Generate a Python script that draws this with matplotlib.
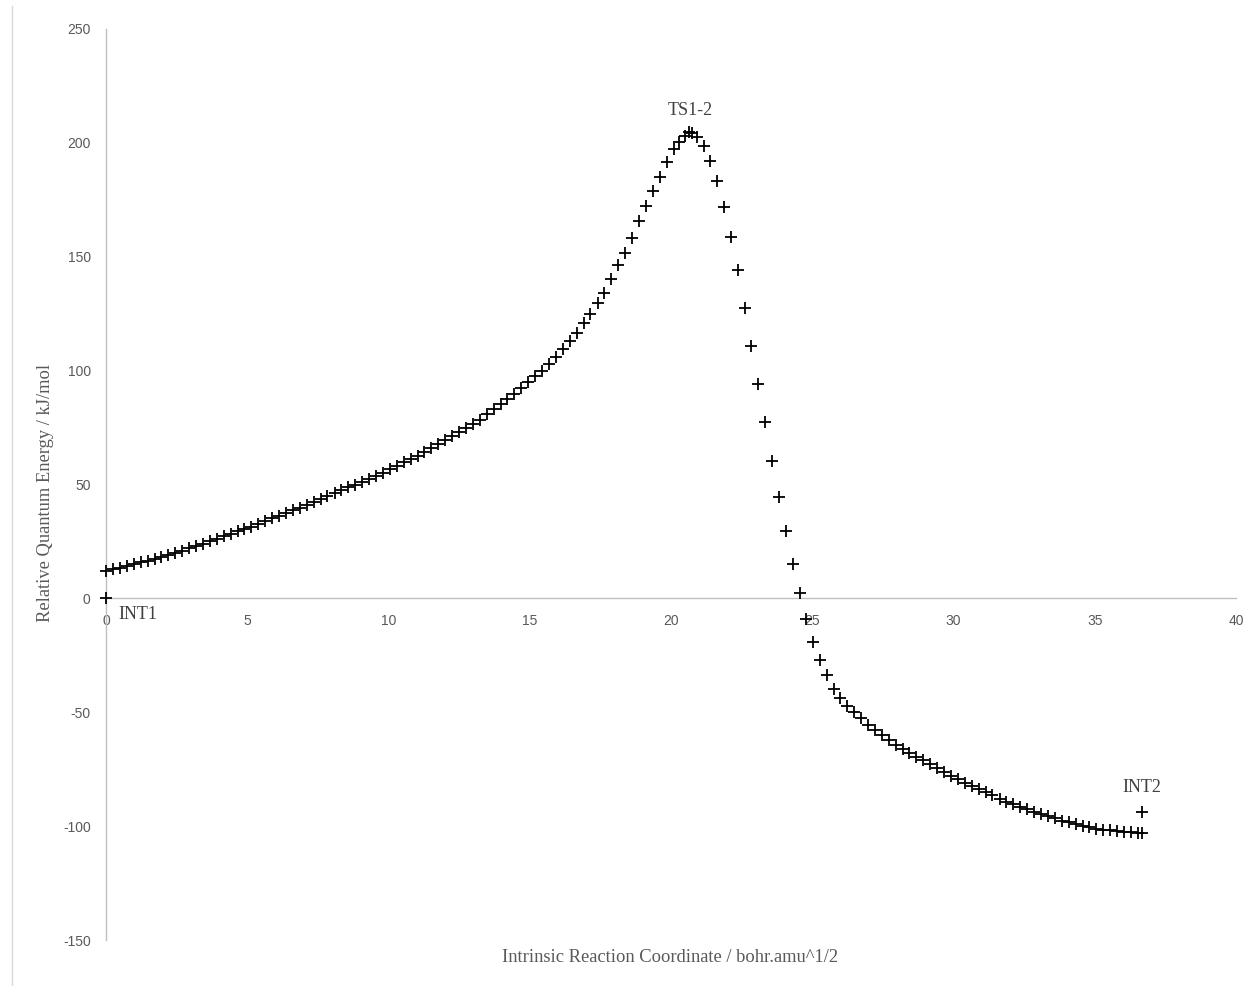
import matplotlib
matplotlib.use("Agg")
import matplotlib.pyplot as plt
from matplotlib.lines import Line2D

plt.rcParams["axes.unicode_minus"] = False

# IRC path (x: reaction coordinate, y: relative energy)
irc_x = [0.00, 0.25, 0.49, 0.74, 0.98, 1.23, 1.47, 1.72, 1.96, 2.21,
         2.45, 2.70, 2.94, 3.19, 3.43, 3.68, 3.92, 4.17, 4.41, 4.66,
         4.90, 5.15, 5.39, 5.64, 5.88, 6.13, 6.37, 6.62, 6.86, 7.11,
         7.35, 7.60, 7.84, 8.09, 8.33, 8.58, 8.82, 9.07, 9.31, 9.56,
         9.80, 10.05, 10.29, 10.54, 10.78, 11.03, 11.27, 11.52, 11.76, 12.01,
         12.25, 12.50, 12.74, 12.99, 13.23, 13.48, 13.72, 13.97, 14.21, 14.46,
         14.70, 14.95, 15.19, 15.44, 15.68, 15.93, 16.17, 16.42, 16.66, 16.91,
         17.15, 17.40, 17.64, 17.89, 18.13, 18.38, 18.62, 18.87, 19.11, 19.36,
         19.60, 19.85, 20.09, 20.30, 20.48, 20.62, 20.76, 20.92, 21.17, 21.38,
         21.62, 21.88, 22.11, 22.37, 22.62, 22.84, 23.09, 23.34, 23.57, 23.82,
         24.07, 24.31, 24.55, 24.77, 25.02, 25.27, 25.53, 25.76, 25.99, 26.24,
         26.48, 26.73, 26.97, 27.22, 27.46, 27.71, 27.95, 28.20, 28.44, 28.69,
         28.93, 29.18, 29.42, 29.67, 29.91, 30.16, 30.40, 30.65, 30.89, 31.14,
         31.38, 31.63, 31.87, 32.12, 32.36, 32.61, 32.85, 33.10, 33.34, 33.59,
         33.83, 34.08, 34.32, 34.57, 34.81, 35.06, 35.30, 35.55, 35.79, 36.04,
         36.28, 36.53, 36.66]
irc_y = [12.0, 12.8, 13.4, 14.1, 14.9, 15.8, 16.6, 17.3, 18.0, 18.9,
         19.8, 20.9, 22.0, 23.0, 24.0, 25.1, 26.2, 27.3, 28.3, 29.4,
         30.4, 31.4, 32.5, 33.8, 35.1, 36.3, 37.5, 38.7, 39.8, 41.0,
         42.3, 43.6, 45.0, 46.4, 47.7, 48.9, 50.0, 51.2, 52.5, 53.8,
         55.1, 56.6, 58.2, 59.7, 61.2, 62.7, 64.2, 65.9, 67.6, 69.4,
         71.2, 73.0, 74.8, 76.5, 78.5, 80.8, 83.0, 85.2, 87.4, 89.6,
         92.3, 95.0, 97.5, 100.0, 102.9, 106.1, 109.4, 112.8, 116.6, 120.8,
         125.0, 129.6, 134.3, 140.3, 146.2, 151.8, 158.3, 165.5, 172.1, 178.8,
         185.0, 191.8, 197.2, 200.6, 202.9, 204.6, 204.2, 202.6, 198.7, 192.1,
         183.3, 172.0, 158.5, 144.2, 127.5, 110.8, 94.2, 77.3, 60.5, 44.4,
         29.4, 15.2, 2.3, -9.2, -19.3, -27.2, -33.6, -39.6, -43.6, -47.4,
         -50.0, -52.7, -55.4, -57.7, -59.9, -62.0, -64.2, -66.2, -67.8, -69.5,
         -71.1, -72.6, -74.4, -76.1, -77.8, -79.3, -80.9, -82.4, -83.8, -85.0,
         -86.4, -87.9, -89.2, -90.4, -91.5, -92.6, -93.6, -94.6, -95.6, -96.6,
         -97.6, -98.4, -99.1, -99.8, -100.5, -101.1, -101.6, -101.9, -102.2, -102.5,
         -102.7, -102.8, -102.9]

# Stationary points
stat_x = [0.0, 36.66]
stat_y = [0.0, -93.7]

labels = ["INT1", "TS1-2", "INT2"]
label_x = [0.45, 20.67, 36.66]
label_y = [-7.0, 214.0, -83.0]

x_ticks = [0, 5, 10, 15, 20, 25, 30, 35, 40]
y_ticks = [-150, -100, -50, 0, 50, 100, 150, 200, 250]

W, H = 1248, 986
fig = plt.figure(figsize=(W / 100, H / 100), dpi=100)
ax = fig.add_axes([106 / W, 1 - 940 / H, (1236 - 106) / W, (940 - 29) / H])

mk = dict(marker="+", color="black", linestyle="none", markersize=9,
          markeredgewidth=1.3, clip_on=False, zorder=3)
ax.plot(irc_x, irc_y, **mk)
ax.plot(stat_x, stat_y, **mk)

ax.set_xlim(0, 40)
ax.set_ylim(-150, 250)
ax.set_xticks(x_ticks)
ax.set_yticks(y_ticks)

axis_col = "#BFBFBF"
for s in ["top", "right"]:
    ax.spines[s].set_visible(False)
ax.spines["bottom"].set_position(("data", 0))
ax.spines["left"].set_position(("data", 0))
ax.spines["bottom"].set_color(axis_col)
ax.spines["left"].set_color(axis_col)
ax.spines["bottom"].set_linewidth(1.0)
ax.spines["left"].set_linewidth(1.0)

ax.tick_params(axis="x", length=0, pad=11, labelcolor="#595959", labelsize=10)
ax.tick_params(axis="y", length=0, pad=11, labelcolor="#595959", labelsize=10)
for t in ax.get_xticklabels() + ax.get_yticklabels():
    t.set_fontfamily("Liberation Sans")

serif = "Liberation Serif"
for lab, lx, ly in zip(labels, label_x, label_y):
    ha = "left" if lab == "INT1" else "center"
    ax.text(lx, ly, lab, ha=ha, va="center", fontsize=13, family=serif, color="#404040")

fig.text(670 / W, 1 - 957 / H, "Intrinsic Reaction Coordinate / bohr.amu^1/2",
         ha="center", va="center", fontsize=13.3, family=serif, color="#595959")
fig.text(46 / W, 1 - 493 / H, "Relative Quantum Energy / kJ/mol", rotation=90,
         ha="center", va="center", fontsize=13.3, family=serif, color="#595959")

fig.add_artist(Line2D([12 / W, 12 / W], [0, 1 - 6 / H], transform=fig.transFigure,
                      color="#D9D9D9", linewidth=1.0))

fig.savefig("out.png", dpi=100)
